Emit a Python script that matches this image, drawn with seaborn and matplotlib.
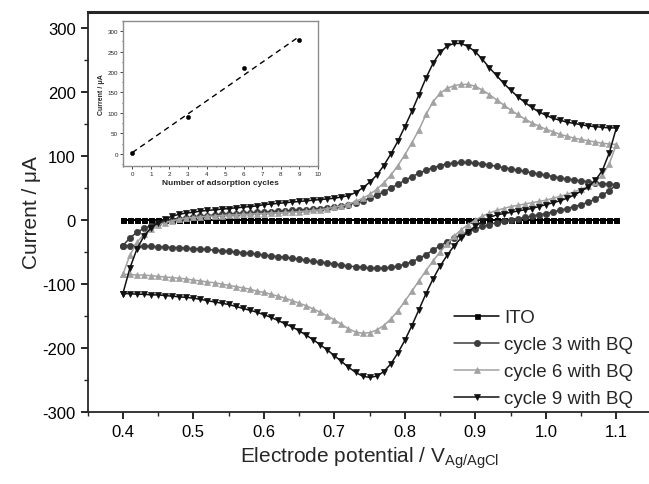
import numpy as np
import pandas as pd
import matplotlib
matplotlib.use('Agg')
import matplotlib.pyplot as plt
import seaborn as sns
from matplotlib.ticker import MultipleLocator

sns.set_style('ticks')
plt.rcParams['font.family'] = ['Liberation Sans', 'DejaVu Sans']
plt.rcParams['axes.unicode_minus'] = False

# potential steps (V vs Ag/AgCl), 0.40 .. 1.10
potential = np.round(np.arange(0.40, 1.1001, 0.01), 2)

# currents in uA, forward (anodic) scan, listed 0.40 -> 1.10
c3_fwd = [-40, -28, -19, -13, -9, -5, -2, 0, 2, 3,
          5, 6, 7, 8, 9, 9, 10, 11, 11, 12,
          12, 13, 14, 14, 15, 16, 16, 17, 18, 19,
          20, 22, 24, 27, 30, 34, 39, 44, 50, 56,
          62, 68, 73, 78, 82, 85, 88, 89, 90, 90,
          89, 88, 86, 84, 82, 80, 78, 76, 74, 72,
          70, 68, 66, 64, 63, 61, 60, 58, 57, 56, 55]
c6_fwd = [-85, -55, -35, -22, -14, -8, -4, -1, 1, 3,
          4, 5, 6, 6, 7, 8, 8, 9, 9, 10,
          10, 11, 11, 12, 12, 13, 14, 15, 16, 18,
          20, 22, 25, 29, 34, 40, 48, 58, 70, 85,
          102, 121, 141, 165, 185, 198, 206, 210, 212, 212,
          209, 203, 196, 188, 180, 172, 165, 158, 152, 147,
          142, 138, 134, 131, 128, 126, 124, 122, 120, 119, 118]
c9_fwd = [-115, -75, -45, -25, -12, -4, 2, 6, 9, 11,
          12, 14, 15, 16, 17, 18, 19, 20, 21, 22,
          24, 25, 26, 27, 28, 29, 30, 31, 32, 33,
          34, 36, 38, 43, 50, 59, 70, 85, 103, 123,
          146, 170, 196, 222, 245, 262, 272, 276, 276, 271,
          263, 251, 238, 226, 214, 203, 193, 184, 176, 169,
          164, 159, 156, 153, 151, 149, 147, 146, 145, 144, 144]

# reverse (cathodic) scan, also listed on the 0.40 -> 1.10 grid
c3_rev = [-40, -40, -40, -41, -41, -42, -42, -43, -43, -44,
          -45, -45, -46, -47, -48, -49, -50, -51, -52, -53,
          -55, -56, -57, -58, -60, -61, -63, -64, -66, -67,
          -69, -70, -72, -73, -74, -75, -75, -75, -74, -72,
          -69, -65, -60, -54, -47, -40, -34, -28, -23, -18,
          -14, -10, -7, -4, -2, 0, 2, 4, 6, 8,
          10, 13, 15, 18, 21, 24, 28, 33, 39, 46, 55]
c6_rev = [-85, -85, -86, -86, -87, -88, -89, -90, -91, -92,
          -94, -95, -97, -98, -100, -102, -104, -106, -108, -111,
          -113, -116, -119, -122, -126, -130, -134, -139, -144, -150,
          -156, -163, -170, -175, -177, -176, -172, -165, -155, -142,
          -127, -111, -95, -79, -64, -50, -37, -25, -15, -7,
          0, 6, 11, 15, 18, 21, 23, 25, 27, 29,
          31, 34, 37, 40, 44, 48, 53, 60, 70, 88, 118]
c9_rev = [-115, -115, -116, -116, -117, -117, -118, -119, -120, -121,
          -122, -124, -126, -128, -130, -132, -135, -138, -141, -144,
          -148, -152, -157, -162, -167, -173, -180, -187, -195, -203,
          -212, -221, -230, -238, -244, -246, -244, -237, -225, -208,
          -188, -165, -140, -115, -92, -72, -55, -40, -28, -18,
          -10, -2, 4, 8, 10, 12, 14, 16, 18, 21,
          24, 27, 30, 34, 39, 45, 52, 62, 77, 105, 144]
ito = [0, 0, 0, 0, 0, 0, 0, 0, 0, 0,
       0, 0, 0, 0, 0, 0, 0, 0, 0, 0,
       0, 0, 0, 0, 0, 0, 0, 0, 0, 0,
       0, 0, 0, 0, 0, 0, 0, 0, 0, 0,
       0, 0, 0, 0, 0, 0, 0, 0, 0, 0,
       0, 0, 0, 0, 0, 0, 0, 0, 0, 0,
       0, 0, 0, 0, 0, 0, 0, 0, 0, 0, 0]

labels = ['ITO', 'cycle 3 with BQ', 'cycle 6 with BQ', 'cycle 9 with BQ']
colors = ['#000000', '#3c3c3c', '#a2a2a2', '#111111']
markers = ['s', 'o', '^', 'v']
msizes = [3.6, 4.5, 4.8, 4.8]

# inset: peak current vs number of adsorption cycles
n_cycles = [0, 3, 6, 9]
peak_current = [2, 90, 210, 278]

fig = plt.figure(figsize=(6.49, 4.85), dpi=100)
ax = fig.add_axes([0.135, 0.1485, 0.869, 0.8245])

traces = [(ito, ito), (c3_fwd, c3_rev), (c6_fwd, c6_rev), (c9_fwd, c9_rev)]
for (fwd, rev), lab, col, mk, ms in zip(traces, labels, colors, markers, msizes):
    e = np.concatenate([potential, potential[::-1]])
    i = np.concatenate([np.asarray(fwd), np.asarray(rev)[::-1]])
    df = pd.DataFrame({'E': e, 'I': i})
    sns.lineplot(data=df, x='E', y='I', sort=False, estimator=None, ax=ax,
                 color=col, marker=mk, markersize=ms, markeredgecolor=col,
                 markeredgewidth=0.5, linewidth=1.1, label=lab)

ax.set_xlim(0.35, 1.15)
ax.set_ylim(-300, 325)
ax.xaxis.set_minor_locator(MultipleLocator(0.05))
ax.yaxis.set_minor_locator(MultipleLocator(50))
ax.set_xticks([0.4, 0.5, 0.6, 0.7, 0.8, 0.9, 1.0, 1.1])
ax.set_xticklabels(['0.4', '0.5', '0.6', '0.7', '0.8', '0.9', '1.0', '1.1'])
ax.set_yticks([-300, -200, -100, 0, 100, 200, 300])
ax.tick_params(which='major', direction='out', length=5, width=1.2, labelsize=12, colors='black')
ax.tick_params(which='minor', direction='out', length=3, width=1.0)
for s in ['left', 'bottom']:
    ax.spines[s].set_linewidth(1.3)
ax.spines['top'].set_visible(True)
ax.spines['top'].set_linewidth(2.2)
ax.spines['right'].set_visible(False)
ax.set_xlabel('Electrode potential / V$_{\\mathregular{Ag/AgCl}}$', fontsize=15, labelpad=4)
ax.set_ylabel('Current / \u03bcA', fontsize=15, labelpad=1)

leg = ax.legend(loc='lower right', bbox_to_anchor=(0.997, -0.03), frameon=False,
                fontsize=13.5, handlelength=2.4, handletextpad=0.25, labelspacing=0.52,
                numpoints=1)

# inset
axin = fig.add_axes([0.1895, 0.6557, 0.3005, 0.299])
sns.scatterplot(x=n_cycles, y=peak_current, ax=axin, color='black', s=10, edgecolor='black')
fit = np.polyfit(n_cycles, peak_current, 1)
xf = np.array([0, 9])
axin.plot(xf, np.polyval(fit, xf), color='black', linestyle=(0, (4, 3)), linewidth=1.0)
axin.set_xlim(-0.5, 10)
axin.set_ylim(-30, 325)
axin.xaxis.set_major_locator(MultipleLocator(1))
axin.xaxis.set_minor_locator(MultipleLocator(0.5))
axin.yaxis.set_minor_locator(MultipleLocator(25))
axin.set_yticks([0, 50, 100, 150, 200, 250, 300])
axin.tick_params(which='major', direction='out', length=2, width=0.6, labelsize=4.5, pad=1.5)
axin.tick_params(which='minor', direction='out', length=1, width=0.5)
for s in axin.spines.values():
    s.set_visible(True)
    s.set_color('#8c8c8c')
    s.set_linewidth(1.0)
axin.set_xlabel('Number of adsorption cycles', fontsize=6, labelpad=2, fontweight='bold')
axin.set_ylabel('Current / \u03bcA', fontsize=5, labelpad=2, fontweight='bold')

fig.savefig('out.png', dpi=100)
